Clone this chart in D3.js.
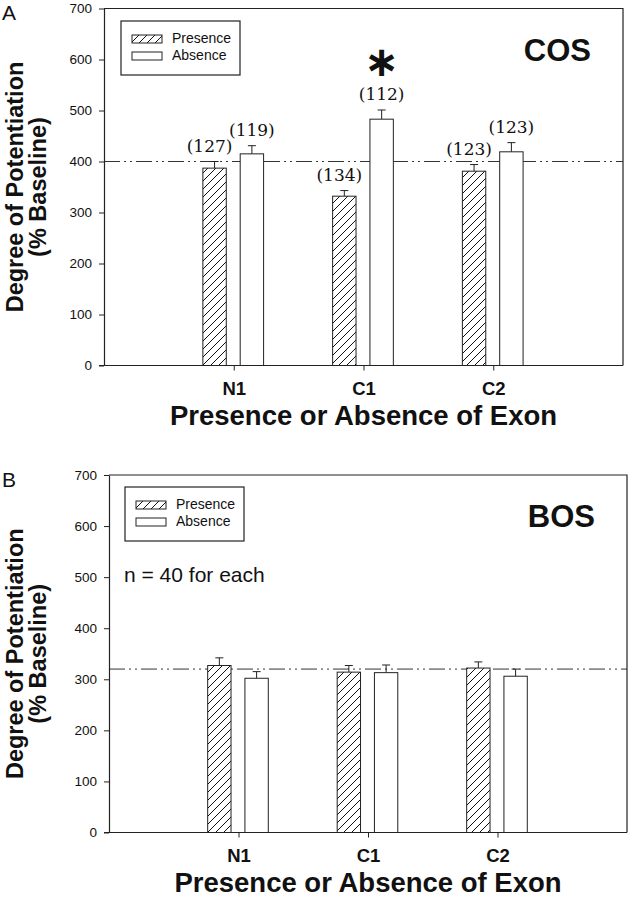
<!DOCTYPE html>
<html>
<head>
<meta charset="utf-8">
<script src="https://cdn.jsdelivr.net/npm/d3@7/dist/d3.min.js"></script>
<style>
  html, body { margin: 0; padding: 0; background: #fff; }
  svg { display: block; }
</style>
</head>
<body>
<svg id="chart" width="628" height="899"></svg>
<script>
// ---------- DATA ----------
const categories = ["N1", "C1", "C2"];
const seriesNames = ["Presence", "Absence"];
const yTicks = [0, 100, 200, 300, 400, 500, 600, 700];

// Panel A (COS)
const cosPresence = [387, 332, 381];
const cosPresenceErr = [13, 11, 13];
const cosAbsence = [415, 483, 419];
const cosAbsenceErr = [16, 18, 18];
const cosPresenceN = ["(127)", "(134)", "(123)"];
const cosAbsenceN = ["(119)", "(112)", "(123)"];
const cosSignificant = [false, true, false]; // absence series
const cosReference = 400;

// Panel B (BOS)
const bosPresence = [327, 314, 322];
const bosPresenceErr = [15, 13, 12];
const bosAbsence = [302, 313, 306];
const bosAbsenceErr = [13, 15, 14];
const bosReference = 320;

// ---------- DRAW ----------
const svg = d3.select("#chart");
const defs = svg.append("defs");
const pat = defs.append("pattern")
  .attr("id", "hatch").attr("patternUnits", "userSpaceOnUse")
  .attr("width", 8).attr("height", 8);
pat.append("rect").attr("width", 8).attr("height", 8).attr("fill", "#fff");
pat.append("path").attr("d", "M0,8 L8,0 M-2,2 L2,-2 M6,10 L10,6")
  .attr("stroke", "#111").attr("stroke-width", 1);

const SANS = "Liberation Sans, Arial, sans-serif";

function panel(cfg) {
  const g = svg.append("g");
  const x = d3.scalePoint().domain(categories).range([cfg.left, cfg.right]).padding(1);
  const y = d3.scaleLinear().domain([0, 700]).range([cfg.bottom, cfg.top]);
  const step = x.step();
  const inner = d3.scaleBand().domain(seriesNames)
    .range([-0.238 * step, 0.23 * step]).paddingInner(0.373);

  // frame top & right
  g.append("path")
    .attr("d", `M${cfg.left},${cfg.top} H${cfg.right} V${cfg.bottom}`)
    .attr("fill", "none").attr("stroke", "#222").attr("stroke-width", 1.2);

  // reference dash-dot line
  g.append("line")
    .attr("x1", cfg.left).attr("x2", cfg.right)
    .attr("y1", y(cfg.ref)).attr("y2", y(cfg.ref))
    .attr("stroke", "#333").attr("stroke-width", 1)
    .attr("stroke-dasharray", "16,4,2,4,2,4");

  // bars
  const rows = [];
  categories.forEach((c, i) => {
    rows.push({c, s: "Presence", v: cfg.pres[i], e: cfg.presErr[i], n: cfg.presN ? cfg.presN[i] : null, sig: false});
    rows.push({c, s: "Absence", v: cfg.abs[i], e: cfg.absErr[i], n: cfg.absN ? cfg.absN[i] : null, sig: cfg.sig ? cfg.sig[i] : false});
  });
  const bw = inner.bandwidth();
  const bx = d => x(d.c) + inner(d.s);

  // error bars
  g.selectAll(".err").data(rows).join("path")
    .attr("d", d => {
      const cx = bx(d) + bw / 2;
      return `M${cx},${y(d.v)} V${y(d.v + d.e)} M${cx - 4},${y(d.v + d.e)} H${cx + 4}`;
    })
    .attr("stroke", "#222").attr("stroke-width", 1).attr("fill", "none");

  g.selectAll(".bar").data(rows).join("rect")
    .attr("x", bx).attr("width", bw)
    .attr("y", d => y(d.v)).attr("height", d => y(0) - y(d.v))
    .attr("fill", d => d.s === "Presence" ? "url(#hatch)" : "#fff")
    .attr("stroke", "#222").attr("stroke-width", 1);

  // n labels
  g.selectAll(".nlab").data(rows.filter(d => d.n)).join("text")
    .attr("x", d => bx(d) + bw / 2 + (d.s === "Presence" ? -5 : 0))
    .attr("y", d => y(d.v + d.e) - 10)
    .attr("text-anchor", "middle")
    .attr("font-family", "DejaVu Serif").attr("font-size", 17)
    .attr("fill", "#111")
    .text(d => d.n);

  g.selectAll(".star").data(rows.filter(d => d.sig)).join("text")
    .attr("x", d => bx(d) + bw / 2)
    .attr("y", d => y(d.v + d.e) - 34)
    .attr("text-anchor", "middle")
    .attr("font-family", "DejaVu Sans").attr("font-weight", "bold").attr("font-size", 42)
    .attr("fill", "#111")
    .text("\u2217");

  // y axis
  const ya = g.append("g").attr("transform", `translate(${cfg.left},0)`)
    .call(d3.axisLeft(y).tickValues(yTicks).tickSize(5).tickPadding(7).tickSizeOuter(0));
  ya.select(".domain").attr("stroke", "#222").attr("stroke-width", 1.2);
  ya.selectAll(".tick line").attr("stroke", "#222");
  ya.selectAll("text").attr("font-family", SANS)
    .attr("font-size", 13.5).attr("fill", "#111");

  // x axis
  const xa = g.append("g").attr("transform", `translate(0,${cfg.bottom})`)
    .call(d3.axisBottom(x).tickSize(5).tickPadding(11).tickSizeOuter(0));
  xa.select(".domain").attr("d", `M${cfg.left - 5},0 H${cfg.right}`)
    .attr("stroke", "#222").attr("stroke-width", 1.2);
  xa.selectAll(".tick line").attr("stroke", "#222");
  xa.selectAll("text").attr("font-family", SANS)
    .attr("font-weight", "bold").attr("font-size", 18.5).attr("fill", "#111");

  // x title
  g.append("text")
    .attr("x", (cfg.left + cfg.right) / 2 + 0).attr("y", cfg.bottom + 59)
    .attr("text-anchor", "middle")
    .attr("font-family", SANS)
    .attr("font-weight", "bold").attr("font-size", 27.5).attr("fill", "#111")
    .text("Presence or Absence of Exon");

  // y title
  const cy = (cfg.top + cfg.bottom) / 2;
  [["Degree of Potentiation", 23], ["(% Baseline)", 46]].forEach(([t, bx0]) => {
    g.append("text")
      .attr("transform", `translate(${bx0},${cy}) rotate(-90)`)
      .attr("text-anchor", "middle")
      .attr("font-family", SANS)
      .attr("font-weight", "bold").attr("font-size", 23.5).attr("fill", "#111")
      .text(t);
  });

  // panel letter
  g.append("text").attr("x", 2).attr("y", cfg.letterY)
    .attr("font-family", SANS)
    .attr("font-size", 21).attr("fill", "#111").text(cfg.letter);

  // condition title
  g.append("text").attr("x", cfg.right - 32).attr("y", cfg.top + 52)
    .attr("text-anchor", "end")
    .attr("font-family", SANS)
    .attr("font-weight", "bold").attr("font-size", 31).attr("fill", "#111")
    .text(cfg.title);

  // legend
  const lg = g.append("g").attr("transform", `translate(${cfg.legX},${cfg.legY})`);
  lg.append("rect").attr("width", 119).attr("height", 54)
    .attr("fill", "#fff").attr("stroke", "#222").attr("stroke-width", 1.2);
  seriesNames.forEach((s, i) => {
    lg.append("rect").attr("x", 11).attr("y", 14 + i * 17).attr("width", 30).attr("height", 8)
      .attr("fill", s === "Presence" ? "url(#hatch)" : "#fff")
      .attr("stroke", "#222").attr("stroke-width", 1);
    lg.append("text").attr("x", 51).attr("y", 22 + i * 17)
      .attr("font-family", SANS)
      .attr("font-size", 14).attr("fill", "#111").text(s);
  });

  if (cfg.note) {
    g.append("text").attr("x", cfg.left + 15).attr("y", y(cfg.noteY))
      .attr("font-family", SANS)
      .attr("font-size", 21).attr("fill", "#111").text(cfg.note);
  }
}

panel({
  left: 104, right: 623, top: 8.5, bottom: 365.5,
  pres: cosPresence, presErr: cosPresenceErr, abs: cosAbsence, absErr: cosAbsenceErr,
  presN: cosPresenceN, absN: cosAbsenceN, sig: cosSignificant, ref: cosReference,
  letter: "A", letterY: 20, title: "COS", legX: 121, legY: 21
});

panel({
  left: 109, right: 627, top: 475, bottom: 832.5,
  pres: bosPresence, presErr: bosPresenceErr, abs: bosAbsence, absErr: bosAbsenceErr,
  ref: bosReference, note: "n = 40 for each", noteY: 490,
  letter: "B", letterY: 487, title: "BOS", legX: 125, legY: 487
});
</script>
</body>
</html>
